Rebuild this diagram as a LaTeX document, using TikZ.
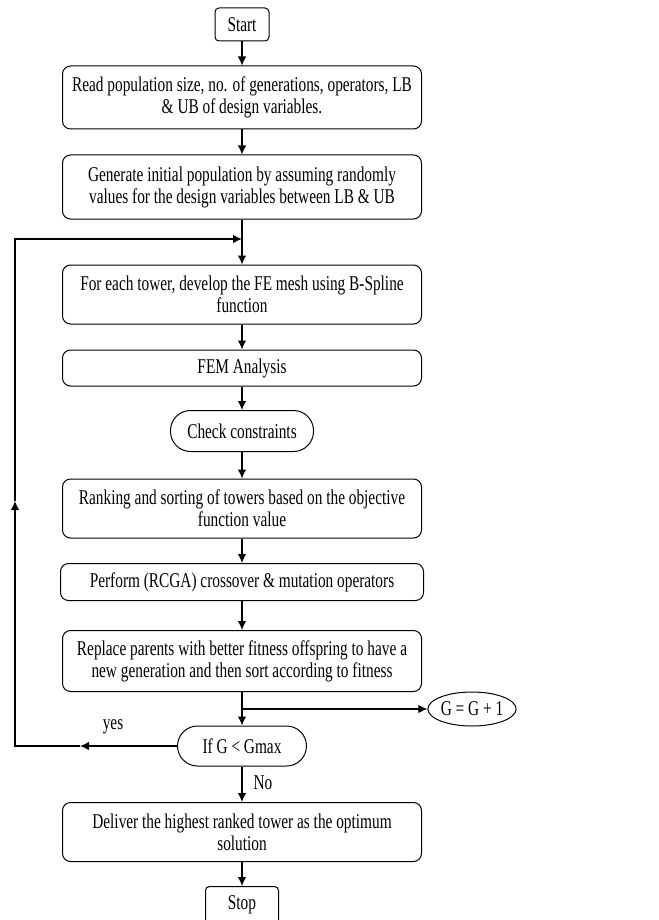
\documentclass[tikz,border=0pt]{standalone}
\usepackage{fontspec}
\setmainfont{Liberation Serif}[FakeStretch=0.73]
\usetikzlibrary{arrows.meta,positioning,shapes.geometric}
\tikzset{
    >={Latex[length=9pt,width=8.5pt]},
    boks/.style={
           rectangle,
           rounded corners=8pt,
           draw=black, line width=1pt,
           minimum width=359pt,
           minimum height=60pt,
           inner sep=0pt,
           align=center},
    kapsel/.style={
           boks,
           rounded corners=20pt,
           minimum width=143pt,
           minimum height=41pt},
    ellipsen/.style={
           ellipse,
           draw=black, line width=1pt,
           minimum width=88pt,
           minimum height=34pt,
           inner sep=0pt},
    pil/.style={
           ->,
           line width=1.2pt}
}

\begin{document}
\begin{tikzpicture}[x=1pt, y=-1pt, font=\fontsize{21}{22}\selectfont]
        \useasboundingbox (0,0) rectangle (658,920);
        \node[boks, rounded corners=4pt, minimum width=54pt, minimum height=33pt] (start) at (242,24.5) {Start};
        \node[boks, minimum height=63pt] (les) at (242,97.5) {Read population size, no. of generations, operators, LB\\ \& UB of design variables.};
        \node[boks, minimum height=64pt] (gen) at (242,187) {Generate initial population by assuming randomly\\ values for the design variables between LB \& UB};
        \node[boks, minimum height=59pt] (mesh) at (242,294.5) {For each tower, develop the FE mesh using B-Spline\\ function};
        \node[boks, minimum height=36pt] (fem) at (242,368) {FEM Analysis};
        \node[kapsel] (sjekk) at (242,431) {Check constraints};
        \node[boks, minimum height=59pt] (rang) at (242,508.5) {Ranking and sorting of towers based on the objective\\ function value};
        \node[boks, minimum width=363pt, minimum height=37pt] (krysning) at (242,582) {Perform (RCGA) crossover \& mutation operators};
        \node[boks, minimum height=61pt] (erstatt) at (242,661) {Replace parents with better fitness offspring to have a\\ new generation and then sort according to fitness};
        \node[ellipsen] (gpluss) at (472,709) {G = G + 1};
        \node[kapsel, minimum width=129pt, minimum height=40pt] (test) at (242,746) {If G < Gmax};
        \node[boks, minimum height=59pt] (lever) at (242,832) {Deliver the highest ranked tower as the optimum\\ solution};
        \node[boks, rounded corners=4pt, minimum width=73pt, minimum height=37pt] (stopp) at (242,905) {Stop};
        \node (ja) at (113,727) {yes};
        \node (nei) at (263,783) {No};

        \coordinate (inn) at (242,239);
        \coordinate (grein) at (242,709);
        \coordinate (venstre pil) at (80,746);
        \coordinate (hjorne nede) at (15,746);
        \coordinate (opp pil) at (15,501);
        \coordinate (hjorne oppe) at (15,239);

        \draw[pil] (start) -- (les);
        \draw[pil] (les) -- (gen);
        \draw[pil] (gen) -- (mesh);
        \draw[pil] (mesh) -- (fem);
        \draw[pil] (fem) -- (sjekk);
        \draw[pil] (sjekk) -- (rang);
        \draw[pil] (rang) -- (krysning);
        \draw[pil] (krysning) -- (erstatt);
        \draw[pil] (erstatt) -- (test);
        \draw[pil] (grein) -- (gpluss);
        \draw[pil] (test) -- (lever);
        \draw[pil] (lever) -- (stopp);
        \draw[pil] (test) -- (venstre pil);
        \draw[pil] (venstre pil) -- (hjorne nede) -- (opp pil);
        \draw[pil] (opp pil) -- (hjorne oppe) -- (inn);
    \end{tikzpicture}
\end{document}
